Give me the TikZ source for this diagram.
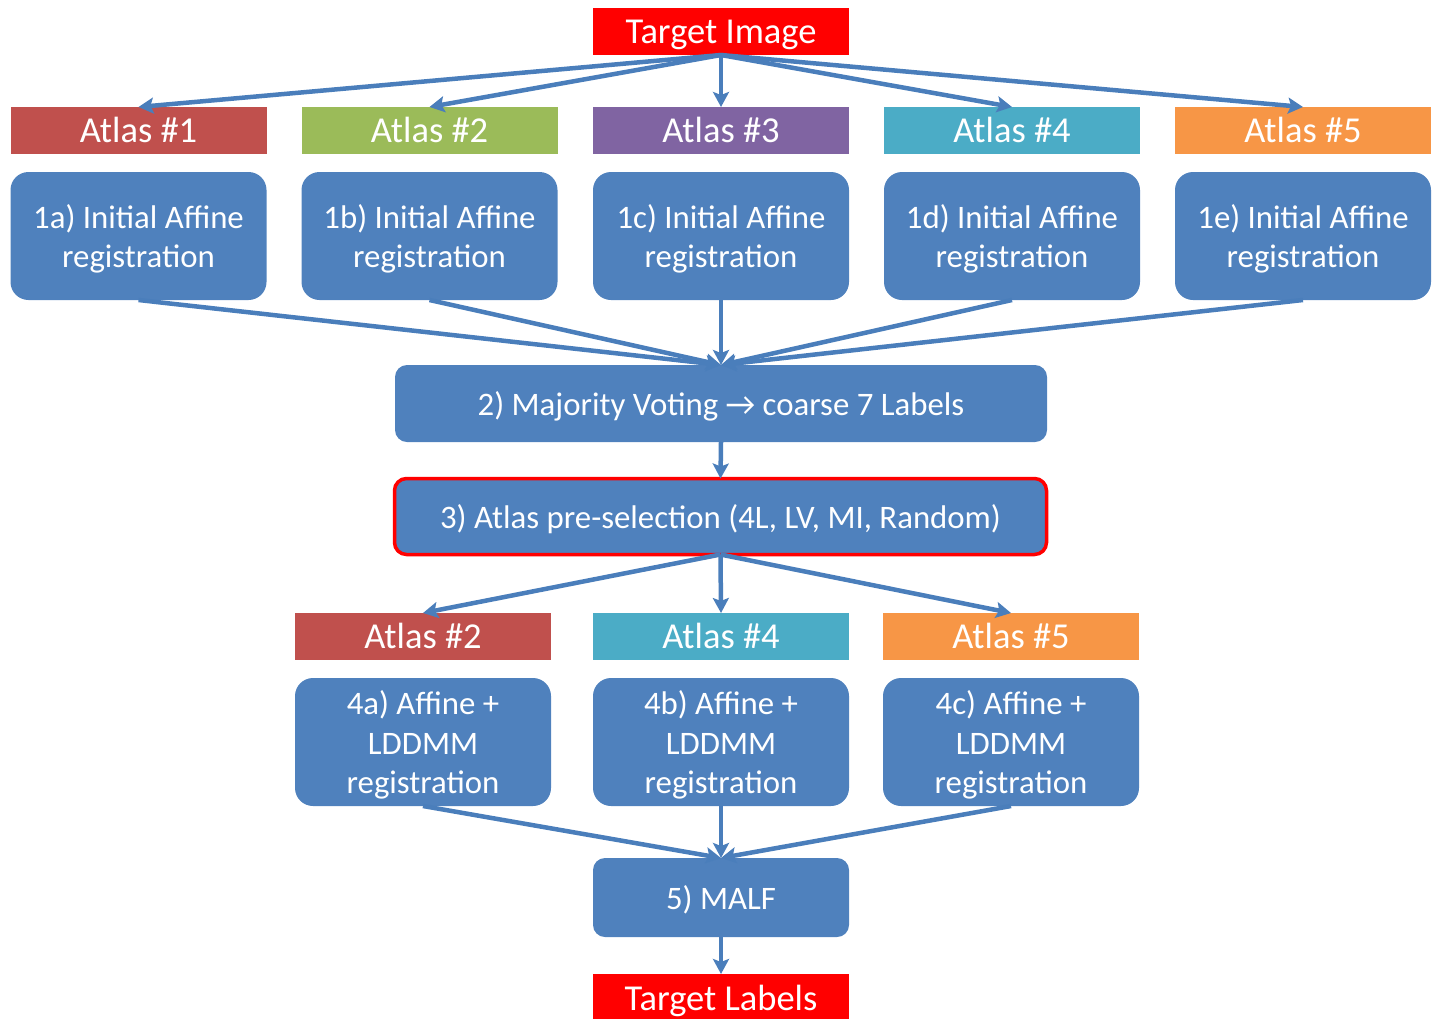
\documentclass[tikz,border=0pt]{standalone}
\usepackage{fontspec}
\setmainfont{Carlito}
\usetikzlibrary{arrows.meta}
\definecolor{boxblue}{HTML}{4F81BD}
\definecolor{arrblue}{HTML}{4A7EBB}
\definecolor{atred}{HTML}{C0504D}
\definecolor{atgreen}{HTML}{9BBB59}
\definecolor{atpurple}{HTML}{8064A2}
\definecolor{atcyan}{HTML}{4BACC6}
\definecolor{atorange}{HTML}{F79646}
\definecolor{pured}{HTML}{FF0000}
\tikzset{
  struts/.style={execute at begin node={\rule{0pt}{#1}}, execute at end node={\rule[-0.31em]{0pt}{0.31em}}},
  lbl/.style={inner sep=0pt, outer sep=0pt, text=white, minimum width=256pt, minimum height=47pt, font=\fontsize{36.5}{40}\selectfont, align=center, struts=0.95em},
  stepbox/.style={fill=boxblue, rounded corners=18pt, inner sep=0pt, outer sep=0pt, text=white, minimum width=256pt, minimum height=128pt, font=\fontsize{32.8}{39.8}\selectfont, align=center},
  twoline/.style={stepbox, text height=70.8pt, text depth=7pt},
  threeline/.style={stepbox, text height=110.6pt, text depth=7pt},
  oneline/.style={stepbox, rounded corners=12pt, struts=1.07em},
  widebox/.style={oneline, minimum width=652pt},
  conn/.style={draw=arrblue, line width=4.5pt, -{Stealth[length=15pt,width=16pt,inset=3pt]}, shorten >=0pt}
}
\begin{document}
\begin{tikzpicture}[x=1pt,y=-1pt]
\useasboundingbox (0,0) rectangle (1437,1018);
\clip (0,0) rectangle (1437,1018);
% top
\node[lbl, fill=pured] (ti) at (721,31.5) {Target Image};
% atlas row 1
\node[lbl, fill=atred]    (a1) at (138.5,130.5) {Atlas \#1};
\node[lbl, fill=atgreen]  (a2) at (429.5,130.5) {Atlas \#2};
\node[lbl, fill=atpurple] (a3) at (721,130.5) {Atlas \#3};
\node[lbl, fill=atcyan]   (a4) at (1012,130.5) {Atlas \#4};
\node[lbl, fill=atorange] (a5) at (1303,130.5) {Atlas \#5};
% step 1
\node[twoline] (s1a) at (138.5,236) {1a) Initial Affine\\registration};
\node[twoline] (s1b) at (429.5,236) {1b) Initial Affine\\registration};
\node[twoline] (s1c) at (721,236) {1c) Initial Affine\\registration};
\node[twoline] (s1d) at (1012,236) {1d) Initial Affine\\registration};
\node[twoline] (s1e) at (1303,236) {1e) Initial Affine\\registration};
% step 2
\node[widebox, minimum height=77pt] (s2) at (721,403.5) {2) Majority Voting → coarse 7 Labels};
% step 3
\node[widebox, minimum height=76pt, draw=pured, line width=3.5pt] (s3) at (720.5,516.5) {3) Atlas pre-selection (4L, LV, MI, Random)};
% atlas row 2
\node[lbl, fill=atred]    (b2) at (423,636.5) {Atlas \#2};
\node[lbl, fill=atcyan]   (b4) at (721,636.5) {Atlas \#4};
\node[lbl, fill=atorange] (b5) at (1011,636.5) {Atlas \#5};
% step 4
\node[threeline] (s4a) at (423,742) {4a) Affine +\\LDDMM\\registration};
\node[threeline] (s4b) at (721,742) {4b) Affine +\\LDDMM\\registration};
\node[threeline] (s4c) at (1011,742) {4c) Affine +\\LDDMM\\registration};
% step 5
\node[oneline, minimum height=79pt] (s5) at (721,897.5) {5) MALF};
% bottom
\node[lbl, fill=pured, minimum height=50pt] (tl) at (721,999) {Target Labels};
% connectors
\foreach \t in {a1,a2,a3,a4,a5} \draw[conn] (ti.south) -- (\t.north);
\foreach \s in {s1a,s1b,s1c,s1d,s1e} \draw[conn] (\s.south) -- (s2.north);
\draw[conn] (s2.south) -- (s3.north);
\foreach \t in {b2,b4,b5} \draw[conn] (s3.south) -- (\t.north);
\foreach \s in {s4a,s4b,s4c} \draw[conn] (\s.south) -- (s5.north);
\draw[conn] (s5.south) -- (tl.north);
\end{tikzpicture}
\end{document}
